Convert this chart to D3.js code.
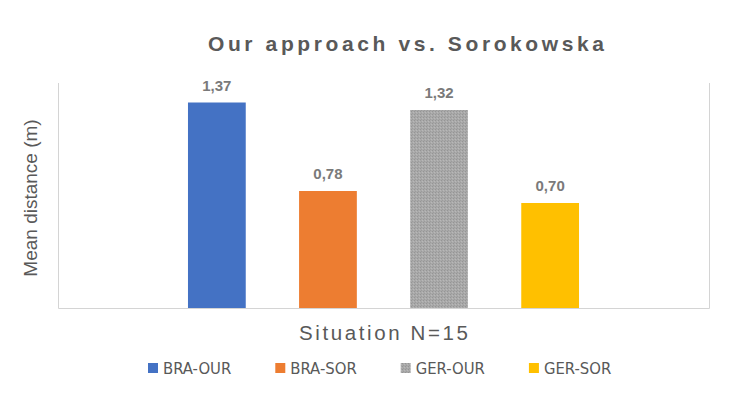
<!DOCTYPE html>
<html>
<head>
<meta charset="utf-8">
<script src="https://cdn.jsdelivr.net/npm/d3@7"></script>
<style>
  body { margin: 0; background: #fff; }
  text { font-family: "Liberation Sans", Arial, sans-serif; }
</style>
</head>
<body>
<div id="vis"></div>
<script>
// chart data
var series = ["BRA-OUR", "BRA-SOR", "GER-OUR", "GER-SOR"];
var values = [1.37, 0.78, 1.32, 0.70];
var labels = ["1,37", "0,78", "1,32", "0,70"];
var colors = ["#4472C4", "#ED7D31", "url(#grayTex)", "#FFC000"];

var width = 745, height = 397;
var plot = {left: 58, right: 709, top: 83, bottom: 308};

var svg = d3.select("#vis").append("svg")
    .attr("width", width)
    .attr("height", height);

// textured gray like the excel fill
var pat = svg.append("defs").append("pattern")
    .attr("id", "grayTex")
    .attr("width", 3).attr("height", 3)
    .attr("patternUnits", "userSpaceOnUse");
pat.append("rect").attr("width", 3).attr("height", 3).attr("fill", "#a9a9a9");
pat.append("rect").attr("x", 0).attr("y", 0).attr("width", 1).attr("height", 1).attr("fill", "#959595");
pat.append("rect").attr("x", 2).attr("y", 1).attr("width", 1).attr("height", 1).attr("fill", "#b8b8b8");
pat.append("rect").attr("x", 1).attr("y", 2).attr("width", 1).attr("height", 1).attr("fill", "#9c9c9c");

var x = d3.scaleBand()
    .domain(series)
    .range([plot.left, plot.right])
    .paddingInner(0.48)
    .paddingOuter(1.17);

var y = d3.scaleLinear()
    .domain([0, 1.5])
    .range([plot.bottom, plot.top]);

// plot area border (left, right, bottom)
svg.append("path")
    .attr("stroke", "#d4d4d4")
    .attr("stroke-width", 1)
    .attr("fill", "none")
    .attr("d", "M" + (plot.left + 0.5) + "," + plot.top +
               "V" + (plot.bottom + 0.5) +
               "H" + (plot.right + 0.5) +
               "V" + plot.top);

// bars
svg.append("g").selectAll("rect")
    .data(series)
  .enter().append("rect")
    .attr("x", function(d) { return x(d); })
    .attr("width", x.bandwidth())
    .attr("y", function(d, i) { return y(values[i]); })
    .attr("height", function(d, i) { return y(0) - y(values[i]); })
    .attr("fill", function(d, i) { return colors[i]; });

// data labels
svg.append("g").selectAll("text")
    .data(series)
  .enter().append("text")
    .attr("x", function(d) { return x(d) + x.bandwidth() / 2; })
    .attr("y", function(d, i) { return y(values[i]) - 12; })
    .attr("text-anchor", "middle")
    .style("font-size", "15px")
    .style("font-weight", "bold")
    .style("fill", "#7a7a7a")
    .text(function(d, i) { return labels[i]; });

// title
svg.append("text")
    .attr("x", 208)
    .attr("y", 51)
    .attr("textLength", 396)
    .attr("lengthAdjust", "spacing")
    .style("font-size", "21px")
    .style("font-weight", "bold")
    .style("fill", "#595959")
    .text("Our approach vs. Sorokowska");

// y axis title
svg.append("text")
    .attr("transform", "translate(37," + 198 + ") rotate(-90)")
    .attr("text-anchor", "middle")
    .style("font-size", "19px")
    .style("fill", "#595959")
    .text("Mean distance (m)");

// x axis title
svg.append("text")
    .attr("x", 299)
    .attr("y", 340)
    .attr("textLength", 169)
    .attr("lengthAdjust", "spacing")
    .style("font-size", "20.5px")
    .style("fill", "#595959")
    .text("Situation N=15");

// legend
var lx = 148;
series.forEach(function(s, i) {
  svg.append("rect")
      .attr("x", lx).attr("y", 363)
      .attr("width", 10).attr("height", 10)
      .attr("fill", colors[i]);
  var t = svg.append("text")
      .attr("x", lx + 15)
      .attr("y", 374)
      .style("font-family", "'Liberation Sans Narrow', 'DejaVu Sans Condensed', Arial, sans-serif")
      .style("font-size", "16.5px")
      .style("fill", "#595959")
      .text(s);
  lx += 15 + t.node().getComputedTextLength() + 44;
});
</script>
</body>
</html>
